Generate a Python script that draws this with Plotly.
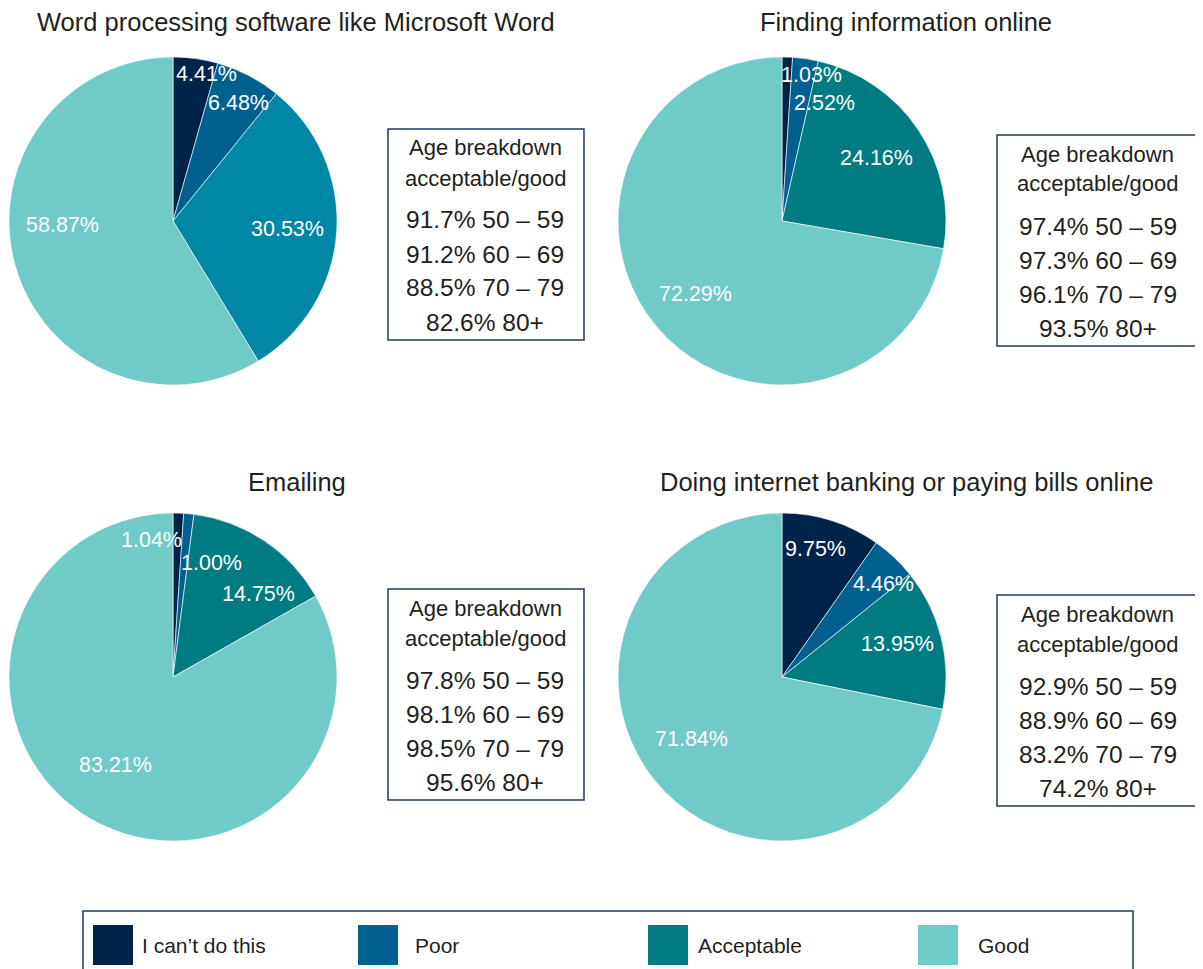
import math
import plotly.graph_objects as go

W, H = 1203, 969

categories = ["I can\u2019t do this", "Poor", "Acceptable", "Good"]
legend_colors = ["#00234a", "#006090", "#007b82", "#70cac8"]

titles = [
    "Word processing software like Microsoft Word",
    "Finding information online",
    "Emailing",
    "Doing internet banking or paying bills online",
]
word_values = [4.41, 6.48, 30.53, 58.87]
finding_values = [1.03, 2.52, 24.16, 72.29]
email_values = [1.04, 1.00, 14.75, 83.21]
banking_values = [9.75, 4.46, 13.95, 71.84]
all_values = [word_values, finding_values, email_values, banking_values]

slice_colors = [
    ["#00234a", "#006090", "#0087a3", "#70cac8"],
    legend_colors,
    legend_colors,
    legend_colors,
]

age_groups = ["50 \u2013 59", "60 \u2013 69", "70 \u2013 79", "80+"]
word_age = [91.7, 91.2, 88.5, 82.6]
finding_age = [97.4, 97.3, 96.1, 93.5]
email_age = [97.8, 98.1, 98.5, 95.6]
banking_age = [92.9, 88.9, 83.2, 74.2]
all_age = [word_age, finding_age, email_age, banking_age]

# label styling: radial factor and pixel nudges per slice label
label_radius = [
    [0.905, 0.81, 0.70, 0.70],
    [0.89, 0.73, 0.69, 0.69],
    [0.835, 0.70, 0.72, 0.65],
    [0.82, 0.84, 0.74, 0.67],
]
label_nudge = [
    [(13, 0), (4, 0), (0, 0), (0, -27)],
    [(25, 0), (25, 0), (0, 0), (0, 0)],
    [(-26, 0), (27, 0), (20, 15), (-4, -4)],
    [(-7, 0), (7, 8), (-2, -4), (-5, -8)],
]

FONT = "Liberation Sans, Arial, sans-serif"
TXT = "#231f20"
NAVY = "#1f3a5f"
OFF = 8  # page body margin


def px(x):
    return (x - OFF) / W


def py(y):
    return 1 - (y - OFF) / H


panels = [
    dict(pie_x=9, pie_y=57, box_x=388, box_y=129, box_w=196, title_x=296, title_y=22),
    dict(pie_x=618, pie_y=57, box_x=997, box_y=135, box_w=210, title_x=906, title_y=22),
    dict(pie_x=9, pie_y=513, box_x=388, box_y=589, box_w=196, title_x=297, title_y=482),
    dict(pie_x=618, pie_y=513, box_x=997, box_y=595, box_w=210, title_x=906, title_y=482),
]
PIE_D = 328
BOX_H = 211

fig = go.Figure()
annotations = []
shapes = []

for i, p in enumerate(panels):
    vals = all_values[i]
    fig.add_trace(go.Pie(
        labels=categories,
        values=vals,
        textinfo="none",
        marker=dict(colors=slice_colors[i], line=dict(color="white", width=0.6)),
        sort=False,
        direction="clockwise",
        rotation=0,
        showlegend=False,
        hoverinfo="label+value",
        domain=dict(x=[px(p["pie_x"]), px(p["pie_x"] + PIE_D)],
                    y=[py(p["pie_y"] + PIE_D), py(p["pie_y"])]),
    ))
    # slice labels placed along each slice's mid angle
    cxp = p["pie_x"] + PIE_D / 2
    cyp = p["pie_y"] + PIE_D / 2
    r = PIE_D / 2
    total = sum(vals)
    cum = 0.0
    for k, v in enumerate(vals):
        mid = (cum + v / 2) / total * 2 * math.pi
        cum += v
        d = label_radius[i][k] * r
        lx = cxp + d * math.sin(mid) + label_nudge[i][k][0]
        ly = cyp - d * math.cos(mid) + label_nudge[i][k][1]
        annotations.append(dict(
            text=f"{v:.2f}%", x=px(lx), y=py(ly), xref="paper", yref="paper",
            showarrow=False, xanchor="center", yanchor="middle",
            font=dict(family=FONT, size=21.5, color="white"),
        ))
    annotations.append(dict(
        text=titles[i], x=px(p["title_x"]), y=py(p["title_y"]),
        xref="paper", yref="paper", showarrow=False,
        xanchor="center", yanchor="middle",
        font=dict(family=FONT, size=25.5, color=TXT),
    ))
    bx, by, bw = p["box_x"], p["box_y"], p["box_w"]
    shapes.append(dict(type="rect", xref="paper", yref="paper",
                       x0=px(bx), x1=px(bx + bw), y0=py(by), y1=py(by + BOX_H),
                       line=dict(color=NAVY, width=1.5), fillcolor="white", layer="below"))
    cx = bx + 97 + (bw - 196) * 0.25
    for j, line in enumerate(["Age breakdown", "acceptable/good"]):
        annotations.append(dict(
            text=line, x=px(cx), y=py(by + 19 + 30 * j),
            xref="paper", yref="paper", showarrow=False,
            xanchor="center", yanchor="middle",
            font=dict(family=FONT, size=22, color=TXT),
        ))
    for j, (age, pct) in enumerate(zip(age_groups, all_age[i])):
        annotations.append(dict(
            text=f"{pct:.1f}% {age}", x=px(cx), y=py(by + 91 + 34 * j),
            xref="paper", yref="paper", showarrow=False,
            xanchor="center", yanchor="middle",
            font=dict(family=FONT, size=24.5, color=TXT),
        ))

# legend box
shapes.append(dict(type="rect", xref="paper", yref="paper",
                   x0=px(83), x1=px(1133), y0=py(911), y1=py(995),
                   line=dict(color=NAVY, width=1.5), fillcolor="white", layer="below"))
legend_x = [93, 358, 648, 918]
legend_tx = [140, 413, 696, 976]
for cat, col, lx, tx in zip(categories, legend_colors, legend_x, legend_tx):
    shapes.append(dict(type="rect", xref="paper", yref="paper",
                       x0=px(lx), x1=px(lx + 40), y0=py(925), y1=py(965),
                       line=dict(width=0), fillcolor=col))
    annotations.append(dict(
        text=cat, x=px(tx), y=py(945), xref="paper", yref="paper",
        showarrow=False, xanchor="left", yanchor="middle",
        font=dict(family=FONT, size=21, color=TXT),
    ))

fig.update_layout(
    width=W, height=H,
    margin=dict(l=0, r=0, t=0, b=0),
    paper_bgcolor="white", plot_bgcolor="white",
    annotations=annotations, shapes=shapes,
    showlegend=False,
)

fig.write_html("out.html")
